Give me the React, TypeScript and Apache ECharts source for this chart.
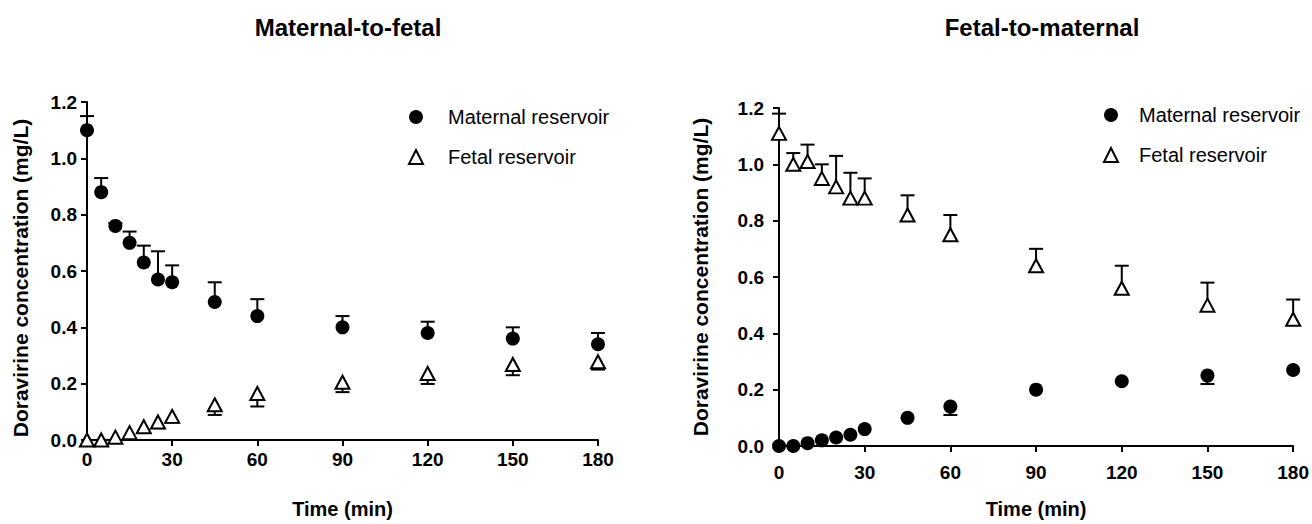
import React, { useEffect, useRef } from "react";
import * as echarts from "echarts";

// Sampling times (min)
const times = [0, 5, 10, 15, 20, 25, 30, 45, 60, 90, 120, 150, 180];

// Panel titles
const panelTitles = ["Maternal-to-fetal", "Fetal-to-maternal"];
const seriesNames = ["Maternal reservoir", "Fetal reservoir"];

// Maternal-to-fetal (mean, SD)
const mfMaternal = [1.1, 0.88, 0.76, 0.7, 0.63, 0.57, 0.56, 0.49, 0.44, 0.4, 0.38, 0.36, 0.34];
const mfMaternalSD = [0.05, 0.05, 0.01, 0.04, 0.06, 0.1, 0.06, 0.07, 0.06, 0.04, 0.04, 0.04, 0.04];
const mfFetal = [0, 0, 0.01, 0.026, 0.047, 0.064, 0.084, 0.125, 0.165, 0.205, 0.236, 0.268, 0.278];
const mfFetalSD = [0, 0, 0, 0, 0, 0.022, 0.022, 0.036, 0.046, 0.035, 0.037, 0.038, 0.028];

// Fetal-to-maternal (mean, SD)
const fmMaternal = [0, 0, 0.01, 0.02, 0.03, 0.04, 0.06, 0.1, 0.14, 0.2, 0.23, 0.25, 0.27];
const fmMaternalSD = [0, 0, 0, 0, 0, 0, 0, 0, 0.03, 0, 0, 0.03, 0];
const fmFetal = [1.11, 1.0, 1.01, 0.95, 0.92, 0.88, 0.88, 0.82, 0.75, 0.64, 0.56, 0.5, 0.45];
const fmFetalSD = [0.07, 0.04, 0.06, 0.05, 0.11, 0.09, 0.07, 0.07, 0.07, 0.06, 0.08, 0.08, 0.07];

const FONT = "'Liberation Sans', Arial, Helvetica, sans-serif";

const errRender = (dir: number) => (params: any, api: any) => {
  const x = api.value(0);
  const y = api.value(1);
  const sd = api.value(2);
  if (!sd) return { type: "group", children: [] };
  const p0 = api.coord([x, y]);
  const p1 = api.coord([x, y + dir * sd]);
  const st = { stroke: "#000", lineWidth: 2 };
  return {
    type: "group",
    children: [
      { type: "line", shape: { x1: p0[0], y1: p0[1], x2: p1[0], y2: p1[1] }, style: st },
      { type: "line", shape: { x1: p1[0] - 7, y1: p1[1], x2: p1[0] + 7, y2: p1[1] }, style: st },
    ],
  };
};

const circleStyle = { color: "#000", opacity: 1 };
const triStyle = { color: "#fff", borderColor: "#000", borderWidth: 2, opacity: 1 };

function App() {
  const ref = useRef<HTMLDivElement>(null);
  useEffect(() => {
    if (!ref.current) return;
    const chart = echarts.init(ref.current, null, { renderer: "svg" });

    const axisCommon = {
      axisLine: { show: true, onZero: false, lineStyle: { color: "#000", width: 2 } },
      axisTick: { show: true, length: 6, lineStyle: { color: "#000", width: 2 } },
      splitLine: { show: false },
    };
    const xAx = (gi: number, gap: number, margin: number) => ({
      ...axisCommon,
      type: "value",
      gridIndex: gi,
      min: 0,
      max: 180,
      interval: 30,
      name: "Time (min)",
      nameLocation: "middle",
      nameGap: gap,
      nameTextStyle: { fontSize: 20, fontWeight: "bold", color: "#000", fontFamily: FONT },
      axisLabel: { fontSize: 19, fontWeight: "bold", color: "#000", fontFamily: FONT, margin },
    });
    const yAx = (gi: number, gap: number, margin: number, namePad: number[]) => ({
      ...axisCommon,
      type: "value",
      gridIndex: gi,
      min: 0,
      max: 1.2,
      interval: 0.2,
      name: "Doravirine concentration (mg/L)",
      nameLocation: "middle",
      nameRotate: 90,
      nameGap: gap,
      nameTextStyle: { fontSize: 21, fontWeight: "bold", color: "#000", fontFamily: FONT, padding: namePad },
      axisLabel: {
        fontSize: 19,
        fontWeight: "bold",
        color: "#000",
        fontFamily: FONT,
        margin,
        formatter: (v: number) => v.toFixed(1),
      },
    });

    const mk = (vals: number[], sds: number[]) => times.map((t, i) => [t, vals[i], sds[i]]);

    const panel = (gi: number, mat: number[], matSD: number[], matDir: number, fet: number[], fetSD: number[], fetDir: number) => [
      {
        type: "custom",
        name: "err-m-" + gi,
        xAxisIndex: gi,
        yAxisIndex: gi,
        renderItem: errRender(matDir),
        data: mk(mat, matSD),
        z: 1,
        clip: false,
      },
      {
        type: "custom",
        name: "err-f-" + gi,
        xAxisIndex: gi,
        yAxisIndex: gi,
        renderItem: errRender(fetDir),
        data: mk(fet, fetSD),
        z: 1,
        clip: false,
      },
      {
        type: "scatter",
        name: seriesNames[0],
        xAxisIndex: gi,
        yAxisIndex: gi,
        symbol: "circle",
        symbolSize: 14,
        itemStyle: circleStyle,
        data: times.map((t, i) => [t, mat[i]]),
        z: 3,
        clip: false,
      },
      {
        type: "scatter",
        name: seriesNames[1],
        xAxisIndex: gi,
        yAxisIndex: gi,
        symbol: "triangle",
        symbolSize: [14, 13],
        itemStyle: triStyle,
        data: times.map((t, i) => [t, fet[i]]),
        z: 2,
        clip: false,
      },
    ];

    const legend = (left: number, top: number, pad: number) => ({
      left,
      top,
      padding: 0,
      orient: "vertical",
      itemWidth: 14,
      itemHeight: 14,
      itemGap: 20,
      selectedMode: false,
      textStyle: { fontSize: 20, color: "#000", fontFamily: FONT, padding: [0, 0, 0, pad] },
      data: [
        { name: seriesNames[0], icon: "circle" },
        { name: seriesNames[1], icon: "triangle" },
      ],
    });

    const titleStyle = { fontSize: 24, fontWeight: "bold", color: "#000", fontFamily: FONT };

    chart.setOption({
      animation: false,
      backgroundColor: "#fff",
      title: [
        { text: panelTitles[0], left: 343, top: 10, textAlign: "center", textStyle: titleStyle },
        { text: panelTitles[1], left: 1037, top: 10, textAlign: "center", textStyle: titleStyle },
      ],
      legend: [legend(408, 107, 20), legend(1103, 105, 16)],
      grid: [
        { left: 87, top: 102, width: 511, height: 342 },
        { left: 779, top: 108, width: 515, height: 342 },
      ],
      xAxis: [xAx(0, 59, 10), xAx(1, 53, 17)],
      yAxis: [yAx(0, 56, 10, [0, 14, 0, 0]), yAx(1, 68, 15, [0, 0, 0, 0])],
      series: [
        ...panel(0, mfMaternal, mfMaternalSD, 1, mfFetal, mfFetalSD, -1),
        ...panel(1, fmMaternal, fmMaternalSD, -1, fmFetal, fmFetalSD, 1),
      ],
    });
    return () => chart.dispose();
  }, []);
  return (
    <div
      ref={ref}
      style={{ position: "fixed", left: 0, top: 0, width: 1312, height: 524 }}
    />
  );
}

export default App;
